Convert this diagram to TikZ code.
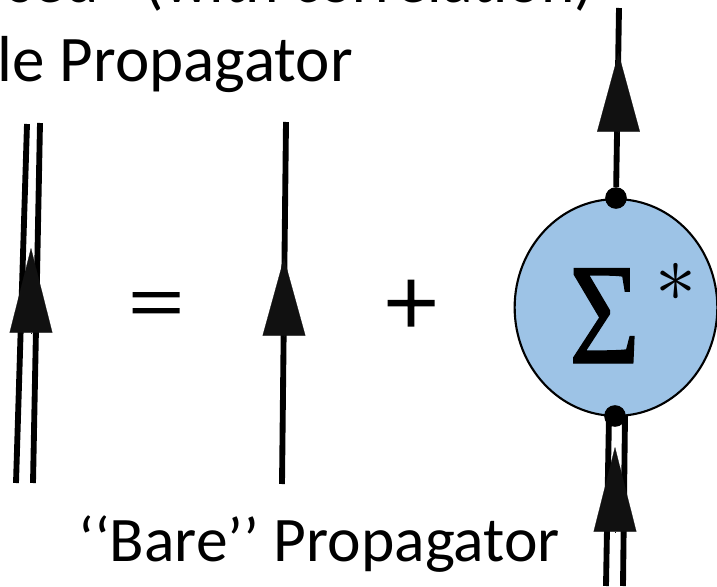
\documentclass[tikz,border=0pt]{standalone}
\usepackage{fontspec}
\usepackage{xcolor}
\usetikzlibrary{arrows.meta,shapes.geometric}
\newfontfamily\labelfont{Carlito}
\newfontfamily\signfont[FakeBold=1.7]{Liberation Serif}
\newfontfamily\sigmafont[FakeBold=1]{Liberation Serif}
\definecolor{selfFill}{HTML}{9DC3E6}
\definecolor{tipBlack}{HTML}{111111}
\tikzset{
  line/.style={black, line width=5pt},
  wedge/.style={tipBlack, line width=0.2pt},
  caption/.style={font=\labelfont\fontsize{54.2}{60}\selectfont, inner sep=0pt},
  opsign/.style={font=\signfont\fontsize{83}{90}\selectfont, inner sep=0pt},
  blob/.style={ellipse, draw=black, line width=1.8pt, fill=selfFill, minimum width=173pt, minimum height=185pt, inner sep=0pt},
  vertex/.style={circle, fill=black, minimum size=18.5pt, inner sep=0pt},
}
\begin{document}
\begin{tikzpicture}[x=0.03cm, y=-0.03cm]

% --- PAGE ---
\useasboundingbox (0,0) rectangle (717,587);
\clip (0,0) rectangle (717,587);

% --- CAPTIONS ---
\node[caption, anchor=base east] (topcap) at (594,3) {sed’’ (with correlation)};
\node[caption, anchor=base east, font=\labelfont\fontsize{55.5}{60}\selectfont] (dresscap) at (353,81) {le Propagator};
\node[caption, anchor=base west] (barecap) at (78,561) {‘‘Bare’’ Propagator};

% --- SIGNS ---
\node[opsign, yscale=0.82] (equal) at (156,311) {=};
\node[opsign] (plus) at (411,308) {+};

% --- LINE ENDS ---
\foreach \nm/\xa/\ya in {dblLtop/27/124, dblLbot/16/483, dblRtop/40/123, dblRbot/33/483,
    bareTop/286/122, bareBot/282/484, outTop/619/8,
    inLbot/606/586, inRbot/623/586} {
  \coordinate (\nm) at (\xa,\ya);
}

% --- SELF ENERGY ---
\node[blob] (selfE) at (616,307.5) {};
\node[inner sep=0pt, anchor=base, xscale=0.85, font=\sigmafont\fontsize{123}{130}\selectfont] (sigma) at (604.5,363) {Σ};
\node[inner sep=0pt, scale=7] (star) at (676,282) {$*$};
\node[vertex] (outV) at (616,198) {};
\node[vertex] (inV) at (615,416) {};
\coordinate (inLtop) at (609,416);
\coordinate (inRtop) at (625,416);

% --- LINES ---
\draw[line] (dblLtop) -- (dblLbot);
\draw[line] (dblRtop) -- (dblRbot);
\draw[line] (bareTop) -- (bareBot);
\draw[line] (outTop) -- (outV);
\draw[line] (inLtop) -- (inLbot);
\draw[line] (inRtop) -- (inRbot);

% --- ARROW WEDGES ---
\foreach \nm/\xb/\yb/\xc/\yc in {dbl/31/333/31/248, bare/284/336/284/258,
    out/618.5/132/618.5/53, in/615/532/615/447} {
  \pgfmathsetmacro\tiplen{(\yb-\yc)*0.85}
  \coordinate (\nm Base) at (\xb,\yb);
  \coordinate (\nm Apex) at (\xc,\yc);
  \draw[wedge, -{Triangle[length=\tiplen pt,width=36.5pt]}] (\nm Base) -- (\nm Apex);
}

\end{tikzpicture}
\end{document}
